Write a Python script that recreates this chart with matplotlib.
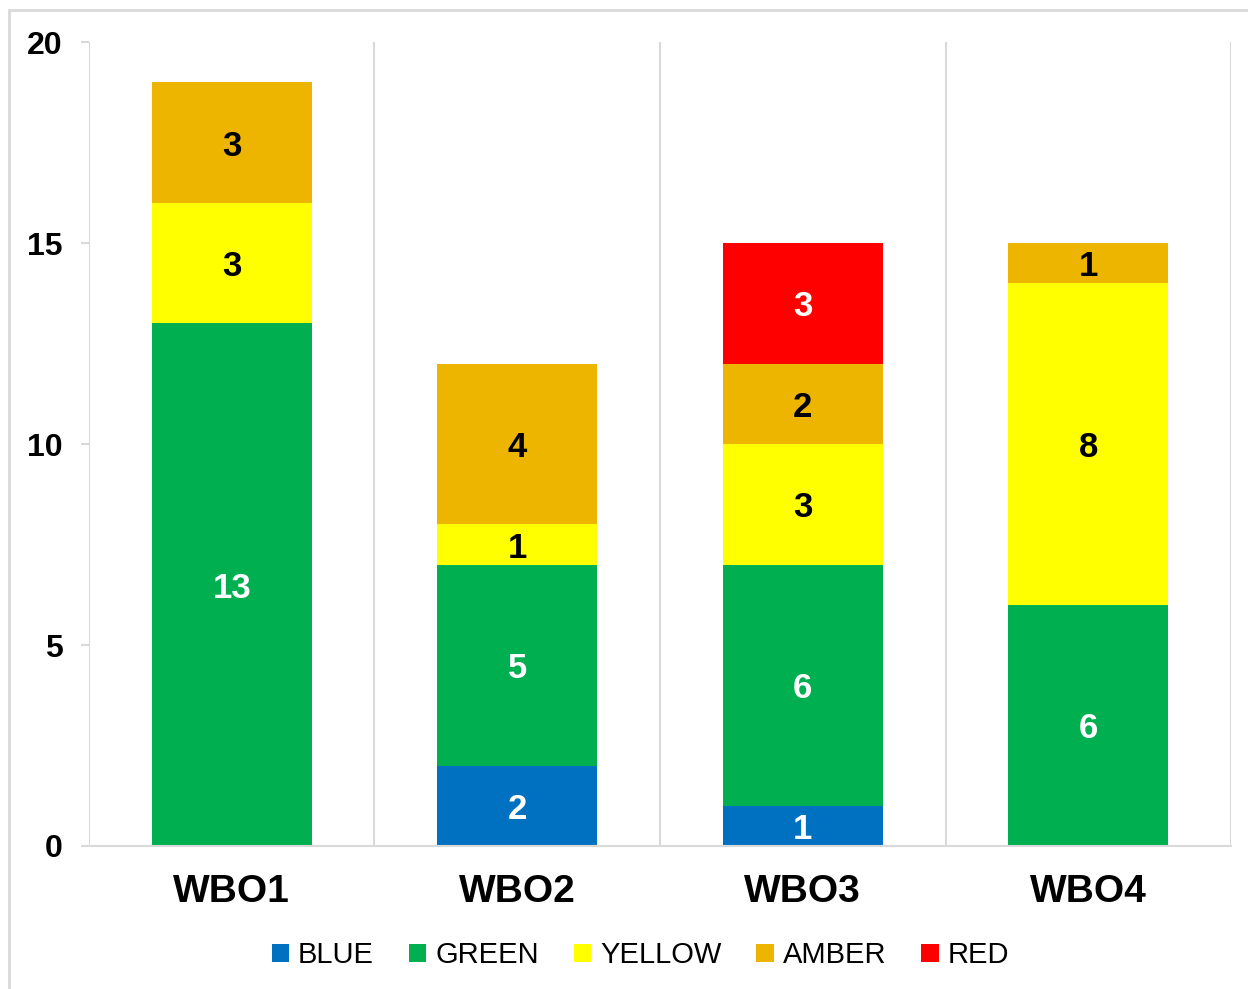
import matplotlib.pyplot as plt
import numpy as np
from matplotlib.patches import Patch, Rectangle

# data
kategori = ["WBO1", "WBO2", "WBO3", "WBO4"]
blue = [0, 2, 1, 0]
green = [13, 5, 6, 6]
yellow = [3, 1, 3, 8]
amber = [3, 4, 2, 1]
red = [0, 0, 3, 0]

siri = [("BLUE", blue, "#0070C0", "white"),
        ("GREEN", green, "#00B050", "white"),
        ("YELLOW", yellow, "#FFFF00", "black"),
        ("AMBER", amber, "#EDB400", "black"),
        ("RED", red, "#FF0000", "white")]

plt.rcParams['font.family'] = ['Liberation Sans', 'DejaVu Sans']

fig = plt.figure(figsize=(12.48, 9.89), dpi=100)
ax = fig.add_axes([0.0713, 0.1446, 0.9151, 0.8129])

x = np.arange(len(kategori))
bawah = np.zeros(len(kategori))
for nama, nilai, warna, warna_teks in siri:
    nilai = np.array(nilai, dtype=float)
    bars = ax.bar(x, nilai, 0.56, bottom=bawah, color=warna, label=nama, zorder=2)
    for b, v, btm in zip(bars, nilai, bawah):
        if v > 0:
            ax.text(b.get_x() + b.get_width() / 2, btm + v / 2, f"{int(v)}",
                    ha="center", va="center_baseline", color=warna_teks,
                    fontsize=25, fontweight="bold", zorder=3)
    bawah = bawah + nilai

ax.set_xlim(-0.5, 3.5)
ax.set_ylim(0, 20)
ax.set_yticks([0, 5, 10, 15, 20])
ax.set_xticks(x)
ax.set_xticklabels(kategori, fontsize=28, fontweight="bold")
for t in ax.get_yticklabels():
    t.set_fontsize(23)
    t.set_fontweight("bold")

# gridlines antara kategori
for g in np.arange(-0.5, 4, 1):
    ax.axvline(g, color="#d9d9d9", lw=1.5, zorder=1)

for s in ["top", "right", "left"]:
    ax.spines[s].set_visible(False)
ax.spines["bottom"].set_color("#d9d9d9")
ax.spines["bottom"].set_linewidth(1.5)
ax.tick_params(axis="y", length=6, width=1.5, color="#d9d9d9", pad=13)
ax.tick_params(axis="x", length=0, pad=20)

handles = [Patch(facecolor=w, label=n) for n, _, w, _ in siri]
fig.legend(handles=handles, loc="center", bbox_to_anchor=(0.513, 0.034), ncol=5,
           frameon=False, fontsize=21, handlelength=0.6, handleheight=0.6,
           handletextpad=0.3, columnspacing=1.2)

fig.add_artist(Rectangle((0.0075, -0.01), 1.0, 1.0, transform=fig.transFigure,
                         fill=False, edgecolor="#d9d9d9", lw=2))

plt.savefig("out.png", dpi=100)
